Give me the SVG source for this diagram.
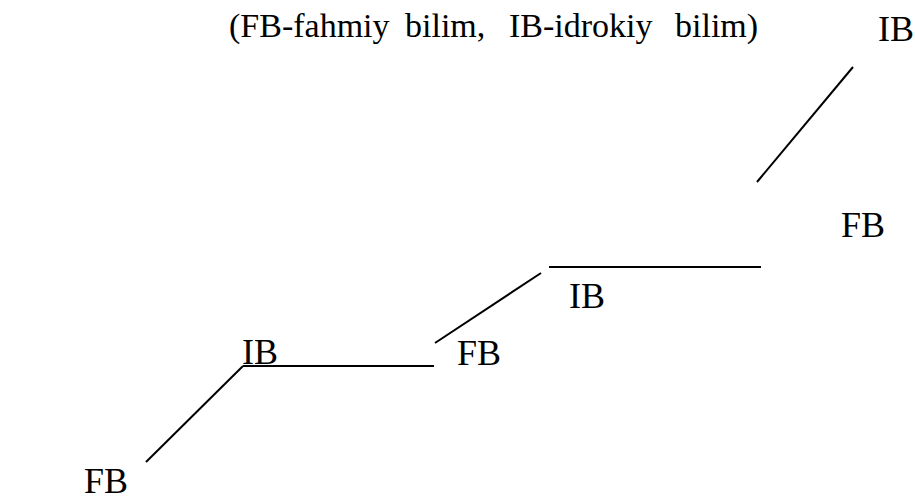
<svg xmlns="http://www.w3.org/2000/svg" width="915" height="503" viewBox="0 0 915 503">
<style>
.t{font-family:"Liberation Serif","Times New Roman",serif;fill:#000}
.title{font-size:34px}
.lbl{font-size:36px}
.c{stroke:#000;stroke-width:2;fill:none}
</style>
<rect width="915" height="503" fill="#fff"/>
<g id="title">
<text class="t title" x="229" y="37">(FB-fahmiy</text>
<text class="t title" x="405" y="37">bilim,</text>
<text class="t title" x="509" y="37">IB-idrokiy</text>
<text class="t title" x="675" y="37">bilim)</text>
</g>
<g id="connectors">
<line class="c" x1="146" y1="462" x2="243" y2="366"/>
<line class="c" x1="243" y1="366" x2="434" y2="366"/>
<line class="c" x1="435" y1="343" x2="541" y2="273"/>
<line class="c" x1="549" y1="267" x2="761" y2="267"/>
<line class="c" x1="757" y1="182" x2="853" y2="67"/>
</g>
<g id="n-fb1"><text class="t lbl" x="84" y="493">FB</text></g>
<g id="n-ib1"><text class="t lbl" x="242" y="364">IB</text></g>
<g id="n-fb2"><text class="t lbl" x="457" y="365">FB</text></g>
<g id="n-ib2"><text class="t lbl" x="569" y="308">IB</text></g>
<g id="n-fb3"><text class="t lbl" x="841" y="237">FB</text></g>
<g id="n-ib3"><text class="t lbl" x="878" y="41">IB</text></g>
</svg>
